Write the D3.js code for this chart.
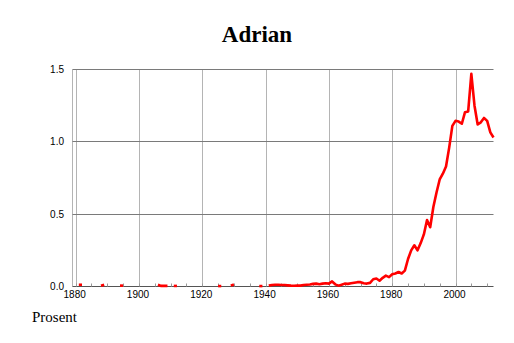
<!DOCTYPE html>
<html>
<head>
<meta charset="utf-8">
<script src="https://cdn.jsdelivr.net/npm/d3@7"></script>
<style>
  body { margin: 0; background: #fff; }
  svg { display: block; }
</style>
</head>
<body>
<svg width="514" height="343"></svg>
<script>
// years with a value; gaps in the years break the line
var years = [1881, 1882, 1888, 1889, 1894, 1895, 1906, 1907, 1908, 1909, 1911, 1912,
  1925, 1926, 1929, 1930, 1938, 1939,
  1941, 1942, 1943, 1944, 1945, 1946, 1947, 1948, 1949, 1950, 1951, 1952, 1953, 1954,
  1955, 1956, 1957, 1958, 1959, 1960, 1961, 1962, 1963, 1964, 1965, 1966, 1967, 1968,
  1969, 1970, 1971, 1972, 1973, 1974, 1975, 1976, 1977, 1978, 1979, 1980, 1981, 1982,
  1983, 1984, 1985, 1986, 1987, 1988, 1989, 1990, 1991, 1992, 1993, 1994, 1995, 1996,
  1997, 1998, 1999, 2000, 2001, 2002, 2003, 2004, 2005, 2006, 2007, 2008, 2009, 2010,
  2011, 2012]
var share = [0.012, 0.012, 0.005, 0.012, 0.006, 0.006, 0.012, 0.004, 0.004, 0.004, 0.004, 0.004,
  0.003, 0.003, 0.006, 0.014, 0.003, 0.003,
  0.006, 0.010, 0.012, 0.012, 0.010, 0.010, 0.008, 0.006, 0.005, 0.006, 0.006, 0.010, 0.012, 0.014,
  0.018, 0.020, 0.016, 0.020, 0.022, 0.020, 0.035, 0.015, 0.006, 0.012, 0.020, 0.018, 0.022, 0.026,
  0.030, 0.030, 0.022, 0.020, 0.025, 0.050, 0.055, 0.040, 0.060, 0.075, 0.065, 0.085, 0.090, 0.100,
  0.090, 0.110, 0.190, 0.250, 0.285, 0.250, 0.300, 0.360, 0.460, 0.410, 0.550, 0.650, 0.740, 0.780,
  0.830, 0.960, 1.110, 1.145, 1.140, 1.125, 1.205, 1.210, 1.470, 1.250, 1.120, 1.135, 1.165, 1.145,
  1.065, 1.030]

var yTicks = [0, 0.5, 1.0, 1.5]
var xTicks = [1880, 1900, 1920, 1940, 1960, 1980, 2000]
var xMinor = [1880, 1885, 1890, 1895, 1900, 1905, 1910, 1915, 1920, 1925, 1930, 1935, 1940,
  1945, 1950, 1955, 1960, 1965, 1970, 1975, 1980, 1985, 1990, 1995, 2000, 2005, 2010]

var svg = d3.select('svg')

var x = d3.scaleLinear().domain([1879, 2012]).range([72.5, 493.5])
var y = d3.scaleLinear().domain([0, 1.5]).range([286.5, 69.5])

// vertical grid
svg.append('g')
  .selectAll('line')
  .data(xTicks)
  .enter().append('line')
  .attr('x1', function (d) { return Math.round(x(d)) + 0.5 })
  .attr('x2', function (d) { return Math.round(x(d)) + 0.5 })
  .attr('y1', y(1.5))
  .attr('y2', y(0))
  .attr('stroke', '#b4b4b4')

// left axis line
svg.append('line')
  .attr('x1', 72.5).attr('x2', 72.5)
  .attr('y1', y(1.5)).attr('y2', y(0))
  .attr('stroke', '#b4b4b4')

// horizontal grid
svg.append('g')
  .selectAll('line')
  .data(yTicks)
  .enter().append('line')
  .attr('x1', 72.5)
  .attr('x2', 493.5)
  .attr('y1', function (d) { return Math.round(y(d) - 0.5) + 0.5 })
  .attr('y2', function (d) { return Math.round(y(d) - 0.5) + 0.5 })
  .attr('stroke', function (d) { return d === 0 ? '#555' : '#7a7a7a' })

// minor ticks
svg.append('g')
  .selectAll('line')
  .data(xMinor)
  .enter().append('line')
  .attr('x1', function (d) { return Math.round(x(d)) + 0.5 })
  .attr('x2', function (d) { return Math.round(x(d)) + 0.5 })
  .attr('y1', y(0) - 3)
  .attr('y2', y(0))
  .attr('stroke', '#999')

// axis labels
svg.append('g')
  .selectAll('text')
  .data(yTicks)
  .enter().append('text')
  .attr('x', 64)
  .attr('y', function (d) { return y(d) })
  .attr('dy', '0.35em')
  .attr('text-anchor', 'end')
  .style('font', '10px "Liberation Sans", Arial, sans-serif')
  .text(function (d) { return d.toFixed(1) })

svg.append('g')
  .selectAll('text')
  .data(xTicks)
  .enter().append('text')
  .attr('x', function (d) { return x(d) - 1 })
  .attr('y', 297.5)
  .attr('text-anchor', 'middle')
  .style('font', '10px "Liberation Sans", Arial, sans-serif')
  .text(function (d) { return d })

// split data into runs of consecutive years
var pts = years.map(function (d, i) { return { year: d, v: share[i] } })
var runs = []
pts.forEach(function (p, i) {
  if (i === 0 || p.year - pts[i - 1].year > 1) runs.push([])
  runs[runs.length - 1].push(p)
})

var line = d3.line()
  .x(function (d) { return x(d.year) })
  .y(function (d) { return y(d.v) })

svg.append('g')
  .selectAll('path')
  .data(runs)
  .enter().append('path')
  .attr('d', line)
  .attr('fill', 'none')
  .attr('stroke', '#ff0000')
  .attr('stroke-width', 2.6)
  .attr('stroke-linejoin', 'round')

svg.append('text')
  .attr('x', 257)
  .attr('y', 42)
  .attr('text-anchor', 'middle')
  .style('font', 'bold 23px "Liberation Serif", "Times New Roman", serif')
  .text('Adrian')

svg.append('text')
  .attr('x', 32)
  .attr('y', 322)
  .style('font', '15px "Liberation Serif", "Times New Roman", serif')
  .text('Prosent')
</script>
</body>
</html>
